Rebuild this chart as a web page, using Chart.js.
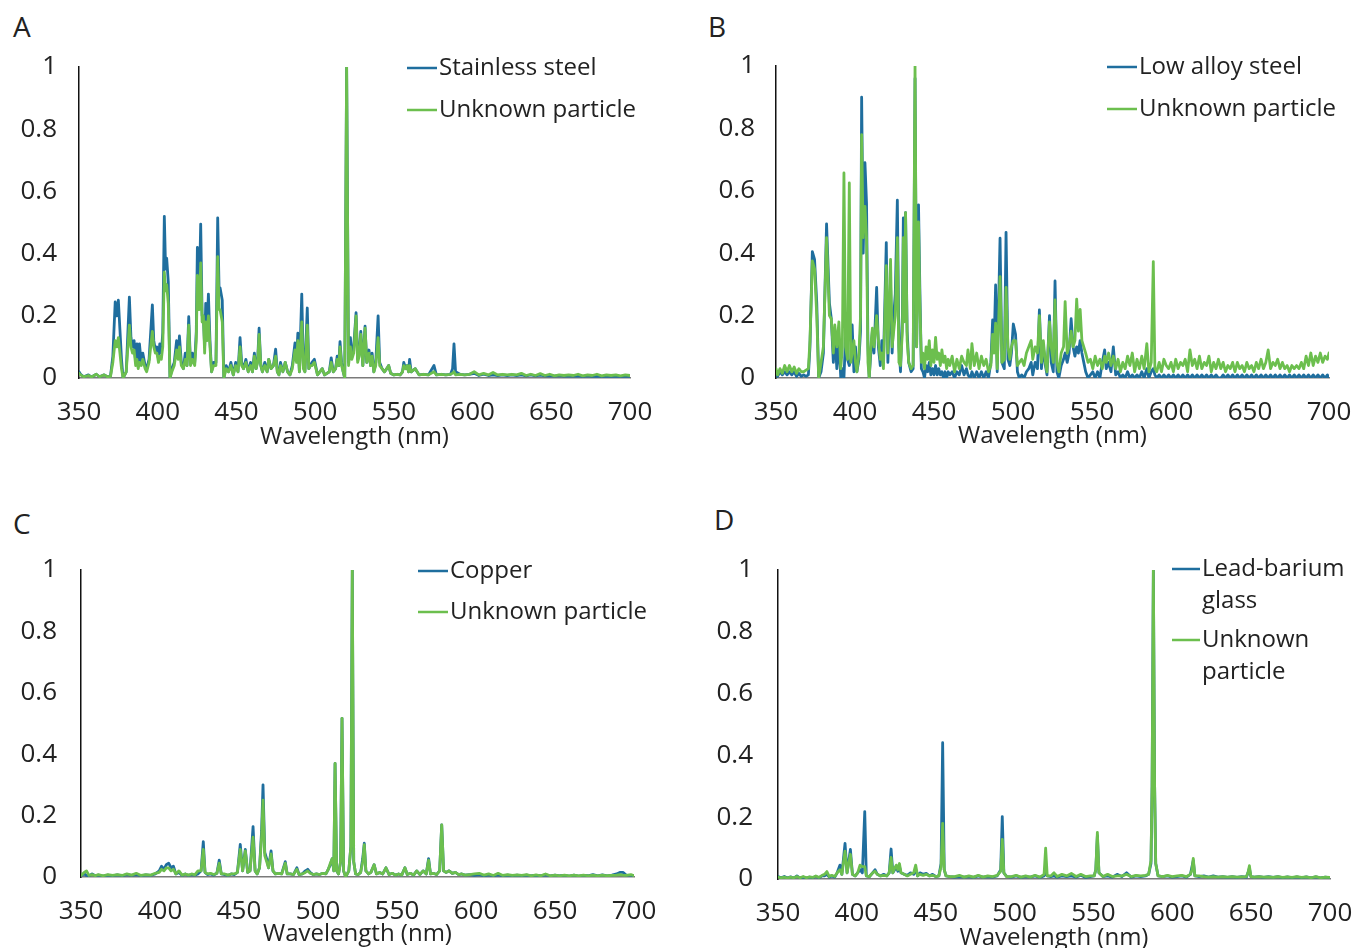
<!DOCTYPE html>
<html>
<head>
<meta charset="utf-8">
<title>LIBS spectra comparison</title>
<script src="https://cdn.jsdelivr.net/npm/chart.js@4.4.1/dist/chart.umd.min.js"></script>
<style>
  html, body { margin: 0; padding: 0; background: #fff; }
  body { position: relative; width: 1354px; height: 948px; overflow: hidden; font-family: "Open Sans", sans-serif; }
  .panel { position: absolute; }
  .letter { position: absolute; font: 28px/28px "Open Sans", sans-serif; color: #222; }
</style>
</head>
<body>
<div class="letter" style="left:13px;top:12px">A</div>
<div class="letter" style="left:708px;top:12px">B</div>
<div class="letter" style="left:13px;top:509px">C</div>
<div class="letter" style="left:714px;top:505px">D</div>

<canvas id="chartA" class="panel" width="677" height="470" style="left:0;top:0"></canvas>
<canvas id="chartB" class="panel" width="720" height="470" style="left:677px;top:0"></canvas>
<canvas id="chartC" class="panel" width="677" height="472" style="left:0;top:480px"></canvas>
<canvas id="chartD" class="panel" width="720" height="476" style="left:677px;top:480px"></canvas>

<script>
// ---- A: stainless steel vs unknown particle ----
const aNm = [
  350, 351, 353, 356, 358, 361, 363, 366, 368, 370,
  371.5, 373, 374, 375, 376, 377, 378, 380, 382, 383,
  384, 385, 386, 386.8, 387.6, 388.4, 389.5, 390.5, 392, 393,
  394.5, 396.6, 397.5, 398.5, 399.5, 400.5, 401.3, 402.3, 403.2, 404.2,
  405, 405.7, 406.7, 407.8, 409, 410.5, 412, 413, 413.8, 415,
  416.3, 417.5, 418.6, 419.7, 420.8, 422, 423.5, 424.5, 425.2, 426.3,
  427.3, 428.2, 429, 429.8, 430.5, 431.3, 432.2, 433.2, 434.2, 435.5,
  437, 438.1, 439, 439.6, 441, 442, 443.5, 445, 446.5, 448,
  449.5, 451, 452.3, 453.3, 454.5, 456, 457.5, 459, 460.2, 461.4,
  462.5, 463.5, 464.4, 465.5, 466.5, 468, 469.5, 470.5, 472, 473.5,
  474.9, 476, 477, 478, 479.5, 481, 482.5, 484, 485.5, 487.2,
  488.2, 489, 490, 491.5, 492.5, 493.5, 495, 496, 497, 498,
  499.5, 501.5, 503, 504.5, 506, 507.5, 509, 510.2, 511.5, 513,
  514, 515, 515.8, 516.8, 517.8, 518.8, 520, 521.2, 522.4, 523.3,
  524.5, 526, 527, 528, 529, 530.3, 531.7, 532.8, 534.2, 535.2,
  536.2, 537.3, 538.5, 540, 541, 542.5, 544, 545.5, 546.7, 548,
  550, 552, 554, 555.5, 556.3, 557.5, 558.5, 559.3, 560, 561,
  563.6, 566, 569, 572, 575.5, 577, 580, 583, 586, 587.3,
  588.2, 589.2, 592, 595, 598, 601, 604, 607, 610, 613,
  616, 619, 622, 625, 628, 631, 634, 637, 640, 643,
  646, 649, 652, 655, 658, 661, 664, 667, 670, 673,
  676, 679, 682, 685, 688, 691, 694, 697, 700
];
const aSteel = [
  0.02, 0.012, 0.004, 0.01, 0.003, 0.012, 0.004, 0.01, 0.004, 0.006,
  0.07, 0.245, 0.2, 0.25, 0.155, 0.06, 0, 0.02, 0.26, 0.13,
  0.1, 0.12, 0.05, 0.11, 0.04, 0.11, 0.05, 0.08, 0.04, 0.03,
  0.06, 0.235, 0.12, 0.09, 0.1, 0.06, 0.11, 0.08, 0.145, 0.52,
  0.35, 0.385, 0.31, 0, 0.03, 0.05, 0.12, 0.07, 0.135, 0.05,
  0.03, 0.08, 0.04, 0.197, 0.05, 0.08, 0.05, 0.15, 0.42, 0.25,
  0.495, 0.2, 0.2, 0.1, 0.24, 0.15, 0.27, 0.12, 0.02, 0.05,
  0.05, 0.515, 0.28, 0.29, 0.25, 0, 0.04, 0.02, 0.05, 0.01,
  0.05, 0.02, 0.13, 0.05, 0.03, 0.06, 0.02, 0.05, 0.02, 0.08,
  0.03, 0.06, 0.16, 0.04, 0.02, 0.05, 0.02, 0.06, 0.03, 0.04,
  0.093, 0.02, 0.01, 0.05, 0.02, 0.05, 0.02, 0.01, 0.04, 0.113,
  0.06, 0.144, 0.02, 0.27, 0.04, 0.02, 0.225, 0.03, 0.04, 0.05,
  0.06, 0.01, 0.02, 0.03, 0.01, 0.015, 0.02, 0.065, 0.02, 0.03,
  0.07, 0.04, 0.117, 0.05, 0.02, 0, 1, 0.05, 0.13, 0.07,
  0.1, 0.21, 0.06, 0.08, 0.15, 0.04, 0.167, 0.05, 0.09, 0.04,
  0.08, 0.02, 0.05, 0.2, 0.05, 0.03, 0.02, 0.03, 0.04, 0.015,
  0.01, 0.012, 0.01, 0.02, 0.05, 0.03, 0.04, 0.02, 0.06, 0.02,
  0.03, 0.01, 0.012, 0.01, 0.04, 0.01, 0.012, 0.01, 0.012, 0.03,
  0.11, 0.02, 0.012, 0.01, 0.012, 0.015, 0.008, 0.012, 0.008, 0.01,
  0.008, 0.01, 0.008, 0.01, 0.008, 0.01, 0.007, 0.01, 0.007, 0.009,
  0.007, 0.008, 0.006, 0.008, 0.006, 0.007, 0.006, 0.007, 0.005, 0.007,
  0.005, 0.006, 0.005, 0.006, 0.005, 0.006, 0.005, 0.006, 0.005
];
const aUnknown = [
  0.015, 0.01, 0.004, 0.008, 0.003, 0.012, 0.004, 0.01, 0.004, 0.005,
  0.05, 0.12, 0.1, 0.13, 0.08, 0.03, 0, 0.02, 0.17, 0.1,
  0.08, 0.09, 0.04, 0.06, 0.03, 0.05, 0.04, 0.06, 0.03, 0.02,
  0.05, 0.15, 0.1, 0.08, 0.08, 0.05, 0.07, 0.06, 0.1, 0.34,
  0.28, 0.3, 0.24, 0, 0.02, 0.04, 0.09, 0.06, 0.1, 0.04,
  0.03, 0.06, 0.04, 0.17, 0.04, 0.06, 0.04, 0.12, 0.33, 0.22,
  0.37, 0.18, 0.2, 0.08, 0.18, 0.12, 0.2, 0.1, 0.02, 0.04,
  0.04, 0.39, 0.22, 0.22, 0.18, 0, 0.03, 0.02, 0.04, 0.01,
  0.04, 0.02, 0.1, 0.04, 0.03, 0.05, 0.02, 0.04, 0.02, 0.07,
  0.03, 0.05, 0.14, 0.04, 0.02, 0.04, 0.02, 0.06, 0.03, 0.04,
  0.07, 0.02, 0.01, 0.04, 0.02, 0.05, 0.02, 0.01, 0.03, 0.09,
  0.05, 0.12, 0.02, 0.18, 0.03, 0.02, 0.17, 0.03, 0.04, 0.04,
  0.05, 0.01, 0.02, 0.03, 0.01, 0.015, 0.02, 0.05, 0.02, 0.03,
  0.06, 0.04, 0.1, 0.04, 0.02, 0, 1, 0.04, 0.1, 0.06,
  0.08, 0.2, 0.05, 0.07, 0.14, 0.04, 0.16, 0.05, 0.08, 0.04,
  0.07, 0.02, 0.04, 0.13, 0.04, 0.03, 0.02, 0.03, 0.04, 0.015,
  0.01, 0.012, 0.01, 0.02, 0.04, 0.03, 0.04, 0.02, 0.04, 0.02,
  0.03, 0.01, 0.012, 0.01, 0.02, 0.01, 0.012, 0.01, 0.012, 0.015,
  0.02, 0.01, 0.012, 0.01, 0.012, 0.02, 0.01, 0.015, 0.01, 0.018,
  0.01, 0.012, 0.01, 0.012, 0.01, 0.015, 0.008, 0.012, 0.008, 0.014,
  0.008, 0.012, 0.007, 0.01, 0.008, 0.01, 0.008, 0.012, 0.007, 0.01,
  0.008, 0.012, 0.007, 0.01, 0.008, 0.01, 0.007, 0.01, 0.008
];

// ---- B: low alloy steel vs unknown particle ----
const bNm = [
  350, 351, 352.5, 354, 355.5, 357, 358.5, 360, 361.5, 363,
  364.5, 366, 367.5, 369, 370.5, 371.5, 373, 374.4, 375.8, 377,
  378.5, 380, 382, 383.8, 385, 386.3, 387.2, 388.5, 389.8, 391,
  392, 393, 394, 395.3, 396.4, 397.3, 398.2, 399.3, 400.3, 401.2,
  402.5, 403.5, 404.2, 405.2, 406.3, 407.3, 408.2, 409, 410, 411,
  412, 413.7, 414.8, 416, 417, 418, 419.8, 420.8, 422.5, 423.5,
  424.5, 425.5, 426.8, 427.8, 428.8, 430, 430.6, 431.3, 432, 433,
  434, 435.5, 436.8, 438, 439, 440.2, 441, 442, 443, 444,
  445, 446, 447, 448, 449, 450, 451, 452, 453, 454,
  455, 456, 457, 458, 459, 460, 461.5, 463, 464.5, 466,
  467.5, 469, 470.5, 471.5, 473, 474, 475.5, 477, 478.5, 480,
  481.5, 483, 484.5, 486, 487.1, 488, 489, 490, 491.8, 493,
  494.5, 495.6, 496.8, 498, 499, 500.2, 501.6, 502.8, 504, 505.5,
  507, 508.5, 510, 511.5, 512.5, 514, 515.5, 516.7, 518, 519.2,
  520.5, 521.5, 523.1, 524.2, 525.5, 526.6, 527.8, 529, 530.5, 532,
  533, 534.3, 535.5, 536.8, 538, 539.2, 540.3, 541.4, 542.5, 543.6,
  544.8, 546, 547.5, 549, 550.5, 552, 553.5, 555, 556.5, 558,
  559, 560.5, 562, 563.5, 565, 566.5, 568, 569.5, 571, 572.5,
  574, 575.5, 577, 578.5, 580, 581.5, 583, 584.7, 586, 587.5,
  588.8, 589.8, 591, 592.5, 594, 595.5, 597, 598.5, 600, 601.5,
  603, 604.5, 606, 607.5, 609, 610.5, 612, 613.5, 615, 616.5,
  618, 619.5, 621, 622.5, 624, 625.5, 627, 628.5, 630, 631.5,
  633, 634.5, 636, 637.5, 639, 640.5, 642, 643.5, 645, 646.5,
  648, 649.5, 651, 652.5, 654, 655.5, 657, 658.5, 660, 661.5,
  663, 664.5, 666, 667.5, 669, 670.5, 672, 673.5, 675, 676.5,
  678, 679.5, 681, 682.5, 684, 685.5, 687, 688.5, 690, 691.5,
  693, 694.5, 696, 697.5, 699, 700
];
const bSteel = [
  0.02, 0.005, 0.02, 0.01, 0.02, 0.01, 0.02, 0.01, 0.02, 0.005,
  0.015, 0.005, 0.01, 0.005, 0.01, 0.1, 0.405, 0.38, 0.24, 0,
  0.02, 0.08, 0.494, 0.24, 0.19, 0.05, 0.15, 0.03, 0.12, 0,
  0.03, 0, 0.13, 0.06, 0.04, 0.06, 0.17, 0.02, 0.1, 0.02,
  0.06, 0.15, 0.9, 0.4, 0.69, 0.56, 0.1, 0, 0.08, 0.15,
  0.08, 0.29, 0.1, 0.04, 0.12, 0.05, 0.434, 0.05, 0.3, 0.08,
  0.2, 0.27, 0.57, 0.1, 0.02, 0.2, 0.513, 0.2, 0.53, 0.15,
  0.05, 0.02, 0.03, 0.96, 0.1, 0.555, 0.3, 0.03, 0.02, 0,
  0.04, 0.02, 0.05, 0.01, 0.03, 0.01, 0.04, 0.01, 0.03, 0.01,
  0.02, 0, 0.02, 0, 0.02, 0.01, 0.02, 0, 0.02, 0.01,
  0.04, 0.01, 0.03, 0.01, 0, 0.02, 0, 0.02, 0, 0.02,
  0, 0.02, 0, 0.05, 0.186, 0.1, 0.298, 0.02, 0.448, 0.05,
  0.03, 0.467, 0.06, 0.04, 0.08, 0.173, 0.14, 0.02, 0, 0.01,
  0, 0.02, 0.03, 0.05, 0.01, 0.05, 0.03, 0.218, 0.03, 0.1,
  0.04, 0.01, 0.2, 0.05, 0.02, 0.311, 0.02, 0, 0.04, 0.06,
  0.08, 0.05, 0.08, 0.19, 0.1, 0.07, 0.1, 0.08, 0.12, 0.08,
  0.05, 0.02, 0, 0.01, 0.02, 0, 0.02, 0, 0.05, 0.09,
  0.03, 0.05, 0.02, 0.1, 0.01, 0.02, 0, 0.01, 0, 0.02,
  0, 0.01, 0, 0.01, 0, 0.02, 0, 0.03, 0, 0.02,
  0.03, 0.01, 0, 0.01, 0, 0.01, 0, 0.01, 0, 0.01,
  0, 0.01, 0, 0.01, 0, 0.01, 0, 0.01, 0, 0.01,
  0, 0.01, 0, 0.01, 0, 0.01, 0, 0.01, 0, 0,
  0.01, 0, 0.01, 0, 0.01, 0, 0.01, 0, 0.01, 0,
  0.01, 0, 0.01, 0, 0.01, 0, 0.01, 0, 0.01, 0,
  0.01, 0, 0.01, 0, 0.01, 0, 0.01, 0, 0.01, 0,
  0.01, 0, 0.01, 0, 0.01, 0, 0.01, 0, 0.01, 0,
  0.01, 0, 0.01, 0, 0.01, 0
];
const bUnknown = [
  0.03, 0.01, 0.03, 0.015, 0.04, 0.02, 0.04, 0.02, 0.035, 0.015,
  0.03, 0.02, 0.02, 0.025, 0.03, 0.12, 0.375, 0.35, 0.2, 0,
  0.05, 0.1, 0.45, 0.2, 0.19, 0.08, 0.17, 0.1, 0.18, 0.03,
  0.1, 0.657, 0.1, 0.06, 0.625, 0.05, 0.08, 0.12, 0.05, 0.02,
  0.08, 0.2, 0.78, 0.45, 0.55, 0.45, 0.05, 0, 0.1, 0.16,
  0.1, 0.2, 0.12, 0.06, 0.08, 0.03, 0.36, 0.08, 0.38, 0.1,
  0.15, 0.2, 0.45, 0.05, 0.04, 0.15, 0.45, 0.18, 0.53, 0.12,
  0.05, 0.03, 0.04, 1, 0.1, 0.5, 0.25, 0.05, 0.08, 0.03,
  0.1, 0.06, 0.12, 0.04, 0.09, 0.05, 0.13, 0.06, 0.08, 0.04,
  0.09, 0.05, 0.07, 0.03, 0.06, 0.04, 0.07, 0.02, 0.06, 0.03,
  0.07, 0.05, 0.04, 0.09, 0.03, 0.11, 0.04, 0.08, 0.03, 0.07,
  0.04, 0.06, 0.02, 0.04, 0.14, 0.08, 0.176, 0.03, 0.325, 0.05,
  0.06, 0.29, 0.1, 0.06, 0.1, 0.12, 0.12, 0.04, 0.05, 0.06,
  0.04, 0.08, 0.1, 0.12, 0.06, 0.1, 0.08, 0.2, 0.05, 0.12,
  0.05, 0.02, 0.18, 0.1, 0.05, 0.25, 0.05, 0.02, 0.08, 0.1,
  0.245, 0.08, 0.1, 0.15, 0.1, 0.12, 0.253, 0.15, 0.22, 0.12,
  0.1, 0.08, 0.05, 0.06, 0.03, 0.07, 0.04, 0.06, 0.03, 0.07,
  0.05, 0.08, 0.04, 0.07, 0.03, 0.06, 0.02, 0.05, 0.03, 0.07,
  0.04, 0.08, 0.02, 0.06, 0.03, 0.07, 0.03, 0.11, 0.02, 0.05,
  0.373, 0.03, 0.02, 0.05, 0.02, 0.06, 0.04, 0.03, 0.05, 0.02,
  0.06, 0.03, 0.05, 0.04, 0.06, 0.02, 0.09, 0.04, 0.06, 0.03,
  0.07, 0.03, 0.05, 0.04, 0.07, 0.02, 0.05, 0.03, 0.06, 0.03,
  0.05, 0.02, 0.04, 0.03, 0.05, 0.02, 0.05, 0.03, 0.04, 0.02,
  0.05, 0.03, 0.04, 0.02, 0.05, 0.03, 0.06, 0.03, 0.05, 0.09,
  0.03, 0.05, 0.04, 0.06, 0.03, 0.05, 0.03, 0.04, 0.02, 0.04,
  0.03, 0.04, 0.03, 0.05, 0.03, 0.07, 0.04, 0.08, 0.04, 0.07,
  0.05, 0.08, 0.05, 0.07, 0.06, 0.08
];

// ---- C: copper vs unknown particle ----
const cNm = [
  350, 352, 353.5, 355, 357, 359, 361, 364, 367, 370,
  373, 376, 379, 382, 385, 388, 391, 394, 397, 399.5,
  401, 402.5, 404, 405.5, 407, 408.5, 410, 412, 414, 416,
  418, 420, 422, 424, 426, 427.4, 428.5, 430, 432, 434,
  436, 437.5, 438.8, 441, 443, 445, 447, 449, 450.8, 452.3,
  454, 455.5, 457, 458.9, 460.2, 461.5, 463, 464.3, 465.2, 466.3,
  467.5, 468.7, 470.3, 471.5, 473, 475, 477, 479.3, 480.5, 482.5,
  484.5, 486.6, 488, 490, 492, 493.5, 495, 497, 499, 501,
  503, 505, 506.5, 507.8, 509, 510, 510.8, 511.8, 513, 514.3,
  515.2, 516.2, 517.5, 519.5, 520.8, 521.7, 522.6, 523.8, 525.5, 527,
  528.3, 529.3, 530.3, 532, 533.5, 535.5, 537, 539, 541, 543,
  545, 547, 549, 551, 553, 555, 556.5, 558.5, 560.5, 562.5,
  564.5, 566.5, 568.5, 570, 571.2, 573, 575, 577, 578.3, 579.5,
  581, 583, 585, 587, 589, 591, 593, 596, 599, 602,
  605, 608, 611, 614, 617, 620, 623, 626, 629, 632,
  635, 638, 641, 644, 647, 650, 653, 656, 659, 662,
  665, 668, 671, 674, 677, 680, 683, 686, 689, 691,
  693, 695, 698, 700
];
const cCopper = [
  0.005, 0.01, 0.005, 0.003, 0.01, 0.004, 0.006, 0.003, 0.006, 0.004,
  0.007, 0.004, 0.008, 0.005, 0.008, 0.004, 0.007, 0.005, 0.01, 0.02,
  0.035, 0.025, 0.04, 0.045, 0.03, 0.035, 0.01, 0.015, 0.005, 0.01,
  0.005, 0.008, 0.006, 0.01, 0.02, 0.115, 0.015, 0.008, 0.01, 0.006,
  0.012, 0.055, 0.01, 0.008, 0.005, 0.01, 0.008, 0.015, 0.106, 0.02,
  0.09, 0.015, 0.02, 0.164, 0.02, 0.01, 0.03, 0.15, 0.3, 0.08,
  0.06, 0.03, 0.085, 0.02, 0.01, 0.012, 0.01, 0.05, 0.01, 0.01,
  0.008, 0.03, 0.008, 0.01, 0.02, 0.025, 0.015, 0.008, 0.01, 0.008,
  0.012, 0.01, 0.025, 0.04, 0.06, 0.02, 0.37, 0.02, 0.01, 0.05,
  0.517, 0.02, 0, 0.02, 0.1, 1, 0.05, 0.01, 0.008, 0.015,
  0.06, 0.11, 0.02, 0.01, 0.015, 0.04, 0.01, 0.015, 0.01, 0.03,
  0.008, 0.012, 0.006, 0.01, 0.006, 0.03, 0.008, 0.012, 0.006, 0.02,
  0.008, 0.02, 0.01, 0.06, 0.01, 0.012, 0.008, 0.02, 0.17, 0.02,
  0.015, 0.02, 0.012, 0.015, 0.008, 0.01, 0.006, 0.008, 0.005, 0.008,
  0.004, 0.007, 0.004, 0.007, 0.004, 0.006, 0.004, 0.006, 0.004, 0.006,
  0.004, 0.005, 0.004, 0.007, 0.004, 0.006, 0.004, 0.005, 0.003, 0.006,
  0.003, 0.005, 0.004, 0.008, 0.004, 0.007, 0.004, 0.006, 0.01, 0.015,
  0.015, 0.006, 0.005, 0.004
];
const cUnknown = [
  0.005, 0.015, 0.02, 0.005, 0.008, 0.004, 0.008, 0.004, 0.008, 0.005,
  0.008, 0.005, 0.01, 0.006, 0.012, 0.005, 0.008, 0.006, 0.012, 0.015,
  0.025, 0.02, 0.03, 0.03, 0.02, 0.025, 0.01, 0.02, 0.006, 0.01,
  0.006, 0.01, 0.007, 0.02, 0.02, 0.09, 0.015, 0.01, 0.012, 0.008,
  0.012, 0.045, 0.01, 0.01, 0.006, 0.01, 0.01, 0.015, 0.09, 0.02,
  0.085, 0.015, 0.02, 0.13, 0.02, 0.01, 0.03, 0.13, 0.25, 0.07,
  0.05, 0.03, 0.075, 0.02, 0.01, 0.012, 0.01, 0.045, 0.01, 0.01,
  0.008, 0.025, 0.008, 0.01, 0.015, 0.02, 0.012, 0.008, 0.01, 0.008,
  0.012, 0.01, 0.025, 0.045, 0.06, 0.02, 0.37, 0.02, 0.01, 0.05,
  0.517, 0.02, 0, 0.02, 0.1, 1, 0.05, 0.01, 0.008, 0.015,
  0.05, 0.105, 0.02, 0.01, 0.015, 0.04, 0.01, 0.015, 0.01, 0.03,
  0.008, 0.012, 0.006, 0.01, 0.006, 0.03, 0.008, 0.012, 0.006, 0.02,
  0.008, 0.02, 0.01, 0.055, 0.01, 0.012, 0.008, 0.02, 0.17, 0.02,
  0.015, 0.02, 0.012, 0.015, 0.008, 0.01, 0.006, 0.008, 0.01, 0.012,
  0.006, 0.01, 0.005, 0.012, 0.005, 0.008, 0.005, 0.007, 0.005, 0.008,
  0.004, 0.007, 0.004, 0.01, 0.004, 0.006, 0.004, 0.006, 0.004, 0.006,
  0.004, 0.006, 0.004, 0.006, 0.004, 0.006, 0.004, 0.005, 0.006, 0.008,
  0.006, 0.005, 0.008, 0.004
];

// ---- D: lead-barium glass vs unknown particle ----
const dNm = [
  350, 352, 354, 356, 358, 360, 362, 364, 366, 368,
  370, 372, 374, 376, 378, 379.5, 381, 382.5, 384, 386,
  387.5, 389.3, 390.5, 392.5, 393.8, 395.9, 397.2, 399, 400.5, 402,
  403.5, 405, 406, 408, 410, 411.5, 413, 415, 417, 419,
  420.5, 421.7, 422.8, 424, 425, 426, 427, 428, 430, 432,
  434, 436, 437.3, 438.5, 440, 442, 444, 446, 448, 450,
  452, 453.4, 454.4, 455.4, 456.5, 459, 462, 465, 468, 471,
  474, 477, 480, 483, 486, 489, 491.2, 492.2, 493.2, 495,
  498, 501, 504, 507, 510, 513, 516, 518.7, 519.7, 520.7,
  523, 525, 527, 530, 533, 536, 539, 542, 545, 548,
  550.5, 551.5, 552.5, 553.5, 556, 559, 562, 565, 568, 571,
  574, 577, 580, 583, 585, 586.5, 587.2, 588, 588.8, 589.5,
  591, 594, 597, 600, 603, 606, 609, 611.5, 612.5, 613.3,
  614.3, 617, 620, 623, 626, 629, 632, 635, 638, 641,
  644, 647, 648, 648.9, 649.8, 652, 655, 658, 661, 664,
  667, 670, 673, 676, 679, 682, 685, 688, 691, 694,
  697, 700
];
const dGlass = [
  0.008, 0.004, 0.008, 0.003, 0.007, 0.003, 0.01, 0.003, 0.006, 0.003,
  0.006, 0.004, 0.008, 0.004, 0.01, 0.01, 0.015, 0.006, 0.01, 0.006,
  0.02, 0.045, 0.015, 0.115, 0.02, 0.096, 0.015, 0.01, 0.02, 0.03,
  0.02, 0.218, 0.01, 0.008, 0.02, 0.03, 0.015, 0.01, 0.015, 0.01,
  0.02, 0.097, 0.02, 0.03, 0.04, 0.025, 0.04, 0.02, 0.015, 0.012,
  0.02, 0.015, 0.03, 0.01, 0.02, 0.015, 0.018, 0.01, 0.015, 0.008,
  0.01, 0.05, 0.441, 0.03, 0.01, 0.008, 0.006, 0.008, 0.006, 0.008,
  0.005, 0.01, 0.006, 0.008, 0.006, 0.01, 0.03, 0.202, 0.02, 0.008,
  0.006, 0.01, 0.005, 0.008, 0.006, 0.01, 0.005, 0.01, 0.02, 0.01,
  0.008, 0.01, 0.006, 0.01, 0.008, 0.01, 0.006, 0.012, 0.005, 0.008,
  0.01, 0.03, 0.14, 0.02, 0.008, 0.01, 0.006, 0.015, 0.008, 0.02,
  0.006, 0.01, 0.008, 0.01, 0.015, 0.05, 0.3, 1, 0.3, 0.05,
  0.01, 0.008, 0.01, 0.006, 0.008, 0.01, 0.006, 0.015, 0.04, 0.06,
  0.01, 0.008, 0.01, 0.006, 0.01, 0.006, 0.008, 0.005, 0.008, 0.005,
  0.008, 0.006, 0.02, 0.035, 0.008, 0.006, 0.008, 0.005, 0.008, 0.005,
  0.008, 0.004, 0.007, 0.004, 0.007, 0.004, 0.007, 0.004, 0.007, 0.004,
  0.006, 0.004
];
const dUnknown = [
  0.006, 0.004, 0.006, 0.003, 0.006, 0.004, 0.008, 0.004, 0.008, 0.004,
  0.007, 0.005, 0.01, 0.005, 0.012, 0.015, 0.024, 0.008, 0.012, 0.008,
  0.02, 0.03, 0.015, 0.09, 0.02, 0.08, 0.015, 0.01, 0.02, 0.045,
  0.04, 0.04, 0.01, 0.008, 0.02, 0.025, 0.015, 0.01, 0.012, 0.01,
  0.02, 0.07, 0.02, 0.035, 0.045, 0.03, 0.05, 0.02, 0.015, 0.01,
  0.015, 0.02, 0.045, 0.01, 0.015, 0.012, 0.015, 0.01, 0.012, 0.008,
  0.01, 0.04, 0.18, 0.03, 0.01, 0.008, 0.008, 0.012, 0.006, 0.01,
  0.006, 0.012, 0.006, 0.01, 0.008, 0.012, 0.025, 0.128, 0.02, 0.008,
  0.008, 0.012, 0.006, 0.01, 0.006, 0.012, 0.006, 0.015, 0.1, 0.01,
  0.01, 0.02, 0.008, 0.015, 0.01, 0.018, 0.008, 0.015, 0.008, 0.01,
  0.01, 0.03, 0.151, 0.02, 0.008, 0.015, 0.008, 0.01, 0.01, 0.015,
  0.008, 0.012, 0.01, 0.012, 0.015, 0.06, 0.3, 1, 0.3, 0.05,
  0.01, 0.008, 0.012, 0.008, 0.01, 0.012, 0.008, 0.015, 0.03, 0.067,
  0.01, 0.01, 0.008, 0.006, 0.008, 0.006, 0.008, 0.006, 0.008, 0.006,
  0.007, 0.008, 0.02, 0.043, 0.008, 0.006, 0.008, 0.006, 0.007, 0.005,
  0.008, 0.005, 0.007, 0.005, 0.008, 0.005, 0.007, 0.004, 0.008, 0.004,
  0.006, 0.005
];

const BLUE = '#1f6e9e';
const GREEN = '#6cbf4e';
const TEXT = '#222';

Chart.defaults.font.family = '"Open Sans", sans-serif';
Chart.defaults.font.size = 24;
Chart.defaults.color = TEXT;

// legend drawn inside the plot: short line sample + (possibly wrapped) label
const lineLegend = {
  id: 'lineLegend',
  afterDraw(chart, args, opts) {
    const ctx = chart.ctx;
    ctx.save();
    ctx.font = '24px "Open Sans", sans-serif';
    ctx.fillStyle = TEXT;
    ctx.textBaseline = 'middle';
    ctx.textAlign = 'left';
    let y = opts.y;
    chart.data.datasets.forEach((ds, i) => {
      ctx.strokeStyle = ds.borderColor;
      ctx.lineWidth = 2.5;
      ctx.beginPath();
      ctx.moveTo(opts.x, y);
      ctx.lineTo(opts.x + opts.len, y);
      ctx.stroke();
      opts.text[i].forEach((t, j) => ctx.fillText(t, opts.x + opts.len + 2, y + j * opts.lineGap));
      y += opts.itemGap;
    });
    ctx.restore();
  }
};

function toPoints(nm, vals) {
  if (nm.length !== vals.length) console.error('length mismatch', nm.length, vals.length);
  return nm.map((x, i) => ({ x, y: vals[i] }));
}

// area = chart area inside the canvas, in canvas pixels
function spectrumChart(id, nm, ref, unk, names, area, yPad, titlePad, legend) {
  const canvas = document.getElementById(id);
  const W = canvas.width, H = canvas.height;
  return new Chart(canvas, {
    type: 'line',
    data: {
      datasets: [
        { label: names[0].join(' '), data: toPoints(nm, ref), borderColor: BLUE, order: 1 },
        { label: names[1].join(' '), data: toPoints(nm, unk), borderColor: GREEN, order: 0 }
      ]
    },
    options: {
      responsive: false,
      animation: false,
      events: [],
      devicePixelRatio: 1,
      layout: { padding: { left: 0, top: area.top, right: W - area.right, bottom: 0 } },
      elements: {
        point: { radius: 0 },
        line: { borderWidth: 2.8, tension: 0, borderJoinStyle: 'round', borderCapStyle: 'round' }
      },
      plugins: {
        legend: { display: false },
        tooltip: { enabled: false },
        lineLegend: { x: legend.x, y: legend.y, len: legend.len || 30, itemGap: legend.itemGap, lineGap: legend.lineGap || 31, text: names }
      },
      scales: {
        x: {
          type: 'linear',
          min: 350,
          max: 700,
          grid: { display: false, drawTicks: false },
          border: { display: true, color: '#7a7a7a', width: 1.5 },
          ticks: { stepSize: 50, autoSkip: false, maxRotation: 0, padding: 19, color: TEXT, font: { size: 26 } },
          title: { display: true, text: 'Wavelength (nm)', color: TEXT, padding: { top: 0, bottom: titlePad } },
          afterFit: s => { s.height = H - area.bottom; }
        },
        y: {
          min: 0,
          max: 1,
          grid: { display: false, drawTicks: false },
          border: { display: true, color: '#111', width: 1.5 },
          ticks: {
            stepSize: 0.2,
            padding: yPad,
            color: TEXT,
            font: { size: 26 },
            callback: v => String(Math.round(v * 10) / 10)
          },
          afterFit: s => { s.width = area.left; }
        }
      }
    },
    plugins: [lineLegend]
  });
}

spectrumChart('chartA', aNm, aSteel, aUnknown,
  [['Stainless steel'], ['Unknown particle']],
  { left: 79, top: 67, right: 630, bottom: 378 }, 22, 18,
  { x: 407, y: 68, itemGap: 42 });

spectrumChart('chartB', bNm, bSteel, bUnknown,
  [['Low alloy steel'], ['Unknown particle']],
  { left: 99, top: 66, right: 652, bottom: 378 }, 21, 19,
  { x: 430, y: 67, itemGap: 42 });

spectrumChart('chartC', cNm, cCopper, cUnknown,
  [['Copper'], ['Unknown particle']],
  { left: 81, top: 90, right: 634, bottom: 397 }, 24, 3,
  { x: 418, y: 91, itemGap: 41 });

spectrumChart('chartD', dNm, dGlass, dUnknown,
  [['Lead-barium', 'glass'], ['Unknown', 'particle']],
  { left: 101, top: 90, right: 653, bottom: 399 }, 25, 3,
  { x: 495, y: 89, itemGap: 71, lineGap: 32, len: 28 });
</script>
</body>
</html>
